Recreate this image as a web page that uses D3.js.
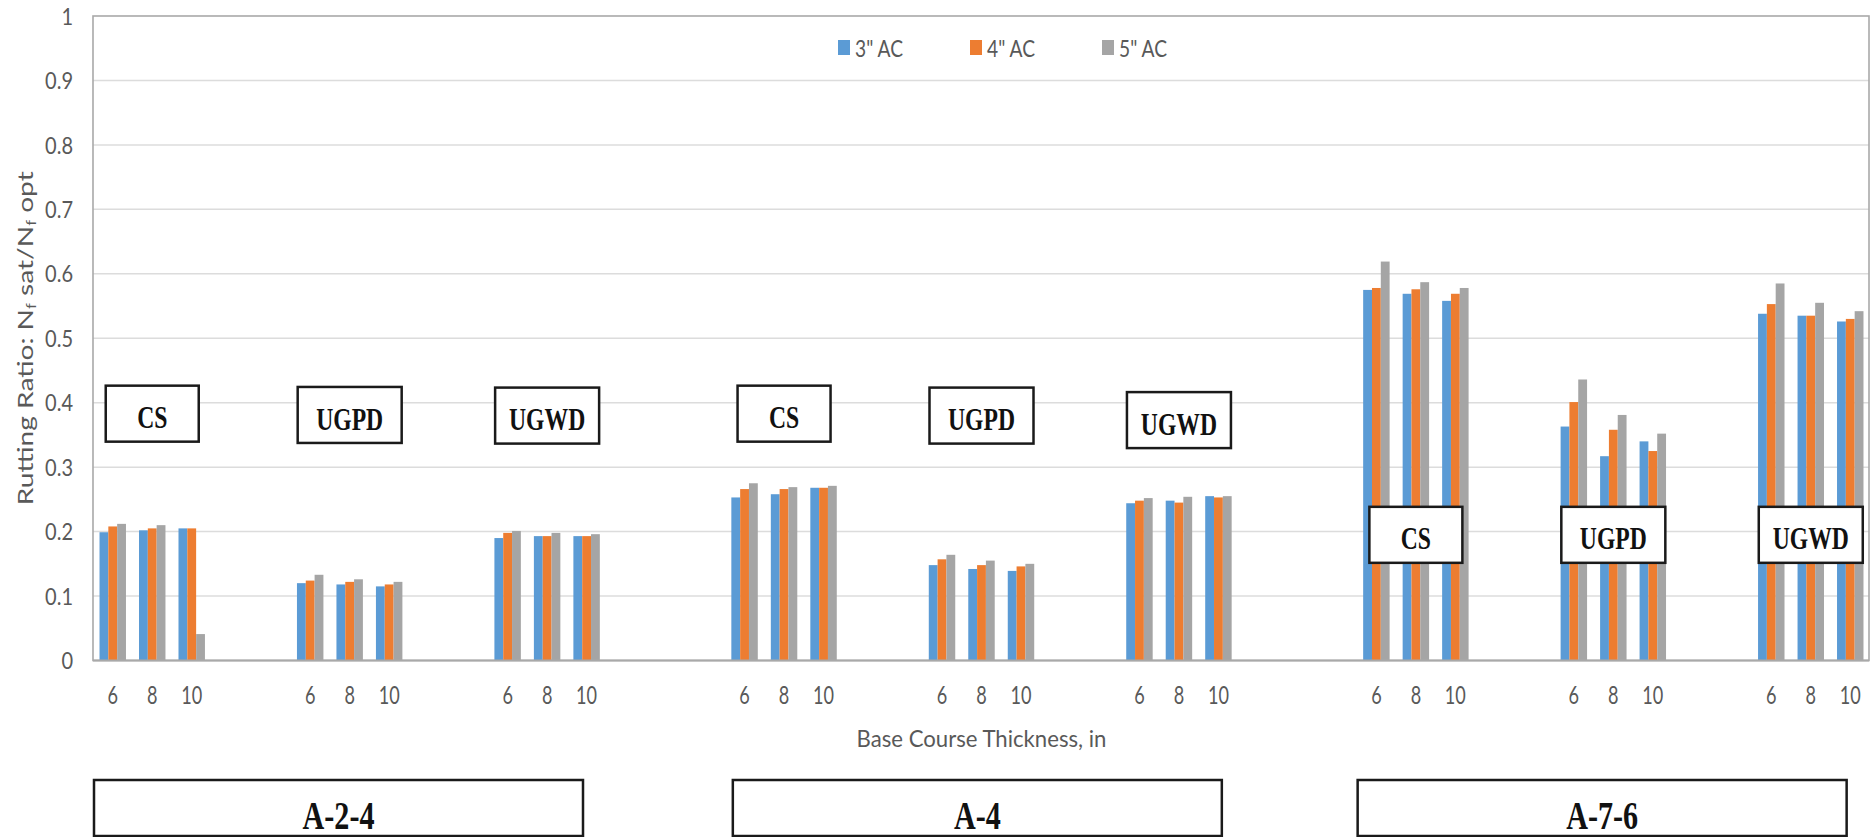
<!DOCTYPE html>
<html><head><meta charset="utf-8">
<script src="https://cdn.jsdelivr.net/npm/d3@7"></script>
<style>html,body{margin:0;padding:0;background:#fff;} svg{display:block;}</style>
</head><body><svg id="chart" width="1871" height="837"></svg>
<script>
// ---------------- data ----------------
const soils = ["A-2-4", "A-4", "A-7-6"];
const bases = ["CS", "UGPD", "UGWD"];
const thicknesses = ["6", "8", "10"];
const seriesNames = ['3" AC', '4" AC', '5" AC'];
// order: soil -> base -> thickness
const ac3 = [0.199, 0.202, 0.205,  0.120, 0.118, 0.115,  0.190, 0.193, 0.193,
             0.253, 0.258, 0.268,  0.148, 0.142, 0.139,  0.244, 0.248, 0.255,
             0.575, 0.569, 0.558,  0.363, 0.317, 0.340,  0.538, 0.535, 0.526];
const ac4 = [0.208, 0.205, 0.205,  0.124, 0.122, 0.118,  0.198, 0.193, 0.193,
             0.266, 0.266, 0.268,  0.157, 0.148, 0.146,  0.248, 0.245, 0.253,
             0.578, 0.576, 0.569,  0.401, 0.358, 0.325,  0.553, 0.535, 0.530];
const ac5 = [0.212, 0.210, 0.041,  0.133, 0.126, 0.122,  0.201, 0.198, 0.196,
             0.275, 0.269, 0.271,  0.164, 0.155, 0.150,  0.252, 0.254, 0.255,
             0.619, 0.587, 0.578,  0.436, 0.381, 0.352,  0.585, 0.555, 0.542];
const yTicks = [0, 0.1, 0.2, 0.3, 0.4, 0.5, 0.6, 0.7, 0.8, 0.9, 1];
const yTitle = ["Rutting Ratio: N", "f", " sat/N", "f", " opt"];
const xTitle = "Base Course Thickness, in";

// ---------------- layout / style ----------------
const colors = ["#5B9BD5", "#ED7D31", "#A5A5A5"];
const plot = {left: 93, right: 1870, top: 16, bottom: 660.5};
const gapWithinSoil = 2, gapBetweenSoils = 3;
const baseBoxLevel = [0.383, 0.381, 0.380, 0.383, 0.380, 0.373, 0.195, 0.195, 0.195];
const soilBoxNudge = [1, 8, 1];
const SANS = "Lato, 'Open Sans', sans-serif";
const SERIF = "'Liberation Serif', 'DejaVu Serif', serif";
const TXT = "#595959";

const svg = d3.select("#chart");
svg.append("rect").attr("width", 1871).attr("height", 837).attr("fill", "#fff");

// categories with gaps
const cats = [];
let vi = 0;
soils.forEach((s, si) => {
  bases.forEach((b, bi) => {
    thicknesses.forEach(t => cats.push({key: "c" + cats.length, label: t, soil: s, base: b, vi: vi++}));
    if (!(si === soils.length - 1 && bi === bases.length - 1)) {
      const n = bi === bases.length - 1 ? gapBetweenSoils : gapWithinSoil;
      for (let i = 0; i < n; i++) cats.push({key: "c" + cats.length, label: "", gap: true});
    }
  });
});
const catByKey = new Map(cats.map(d => [d.key, d]));
const values = [ac3, ac4, ac5];

const x = d3.scaleBand().domain(cats.map(d => d.key)).range([plot.left, plot.right]).padding(0);
const bw = x.bandwidth();
const xs = d3.scaleBand().domain(seriesNames).range([bw * 0.165, bw * 0.835]).padding(0);
const y = d3.scaleLinear().domain([0, 1]).range([plot.bottom, plot.top]);

// gridlines
svg.append("g").selectAll("line").data(yTicks.filter(v => v > 0 && v < 1)).join("line")
  .attr("x1", plot.left).attr("x2", plot.right - 1)
  .attr("y1", d => y(d)).attr("y2", d => y(d))
  .attr("stroke", "#DCDCDC").attr("stroke-width", 1.5);

// frame
svg.append("rect").attr("x", plot.left).attr("y", y(1)).attr("width", plot.right - 1 - plot.left)
  .attr("height", y(0) - y(1)).attr("fill", "none").attr("stroke", "#A9A9A9").attr("stroke-width", 1.6);

// bars
const barData = [];
cats.filter(c => !c.gap).forEach(c => {
  seriesNames.forEach((s, si) => barData.push({key: c.key, s, si, v: values[si][c.vi]}));
});
svg.append("g").selectAll("rect").data(barData).join("rect")
  .attr("x", d => x(d.key) + xs(d.s))
  .attr("width", xs.bandwidth())
  .attr("y", d => y(d.v))
  .attr("height", d => y(0) - y(d.v))
  .attr("fill", d => colors[d.si]);

// baseline
svg.append("line").attr("x1", plot.left).attr("x2", plot.right - 1).attr("y1", y(0)).attr("y2", y(0))
  .attr("stroke", "#A9A9A9").attr("stroke-width", 1.8);

// helper: measure width
function measure(str, size, family, weight) {
  const t = svg.append("text").attr("font-size", size).attr("font-family", family)
    .attr("font-weight", weight || "normal").text(str);
  const w = t.node().getComputedTextLength();
  t.remove();
  return w;
}

// y axis
const ySx = 28 / measure("0.9", 22.5, SANS);
const yAxis = svg.append("g").attr("transform", `translate(${plot.left},0)`)
  .call(d3.axisLeft(y).tickValues(yTicks).tickFormat(d3.format("")).tickSize(0).tickPadding(0));
yAxis.select(".domain").remove();
yAxis.selectAll("text")
  .attr("font-family", SANS).attr("font-size", 22.5).attr("fill", TXT)
  .attr("text-anchor", "end").attr("dy", "0.36em")
  .attr("x", -20 / ySx).attr("transform", `scale(${ySx},1)`);

// x axis
const xSx = 21 / measure("10", 24.5, SANS);
const xAxis = svg.append("g").attr("transform", `translate(0,${plot.bottom})`)
  .call(d3.axisBottom(x).tickFormat(k => catByKey.get(k).label).tickSize(0).tickPadding(0));
xAxis.select(".domain").remove();
xAxis.selectAll("text")
  .attr("font-family", SANS).attr("font-size", 24.5).attr("fill", TXT)
  .attr("y", 34.5).attr("dy", "0.36em").attr("transform", `scale(${xSx},1)`);

// x title
{
  const g = svg.append("g");
  const t = g.append("text").attr("font-family", SANS).attr("font-size", 23.5).attr("fill", TXT)
    .attr("text-anchor", "middle").attr("dy", "0.36em").text(xTitle);
  const sx = 250 / t.node().getComputedTextLength();
  g.attr("transform", `translate(${(plot.left + plot.right) / 2},739) scale(${sx},1)`);
}

// y title
{
  const g = svg.append("g");
  const t = g.append("text").attr("font-family", SANS).attr("font-size", 22).attr("fill", TXT)
    .attr("text-anchor", "middle").attr("dy", "0.36em");
  yTitle.forEach((s, i) => {
    const sp = t.append("tspan").text(s);
    if (i % 2 === 1) sp.attr("font-size", 13).attr("baseline-shift", "-3");
  });
  const sx = 334 / t.node().getComputedTextLength();
  g.attr("transform", `translate(25,${(plot.top + plot.bottom) / 2}) rotate(-90) scale(${sx},1)`);
}

// legend
{
  const lx0 = 838, step = 132;
  const lsx = 48 / measure(seriesNames[0], 23, SANS);
  seriesNames.forEach((s, i) => {
    const g = svg.append("g").attr("transform", `translate(${lx0 + i * step},0)`);
    g.append("rect").attr("x", 0).attr("y", 40).attr("width", 12).attr("height", 15).attr("fill", colors[i]);
    g.append("g").attr("transform", `translate(17,48.5) scale(${lsx},1)`)
      .append("text").attr("font-family", SANS).attr("font-size", 23).attr("fill", TXT)
      .attr("dy", "0.36em").text(s);
  });
}

// base-course label boxes
{
  const bsx = 67 / measure("UGPD", 32, SERIF, "bold");
  let bi = 0;
  soils.forEach((s, si) => {
    bases.forEach((b, bj) => {
      const mid = cats.find(c => !c.gap && c.soil === s && c.base === b && c.label === thicknesses[1]);
      const cx = x(mid.key) + bw / 2;
      const cy = y(baseBoxLevel[bi]);
      const w = b === "CS" ? 93 : 104, h = 56;
      svg.append("rect").attr("x", cx - w / 2).attr("y", cy - h / 2).attr("width", w).attr("height", h)
        .attr("fill", "#fff").attr("stroke", "#1a1a1a").attr("stroke-width", 2.5);
      svg.append("g").attr("transform", `translate(${cx},${cy + 4}) scale(${bsx},1)`)
        .append("text").attr("font-family", SERIF).attr("font-weight", "bold").attr("font-size", 32)
        .attr("fill", "#111").attr("text-anchor", "middle").attr("dy", "0.33em").text(b);
      bi++;
    });
  });
}

// soil boxes
{
  const ssx = 72 / measure("A-2-4", 41, SERIF, "bold");
  soils.forEach((s, si) => {
    const first = cats.find(c => !c.gap && c.soil === s);
    const left = x(first.key) + soilBoxNudge[si];
    const w = 489;
    svg.append("rect").attr("x", left).attr("y", 780).attr("width", w).attr("height", 56)
      .attr("fill", "#fff").attr("stroke", "#1a1a1a").attr("stroke-width", 2.5);
    svg.append("g").attr("transform", `translate(${left + w / 2},815) scale(${ssx},1)`)
      .append("text").attr("font-family", SERIF).attr("font-weight", "bold").attr("font-size", 41)
      .attr("fill", "#111").attr("text-anchor", "middle").attr("dy", "0.33em").text(s);
  });
}
</script>
</body></html>
